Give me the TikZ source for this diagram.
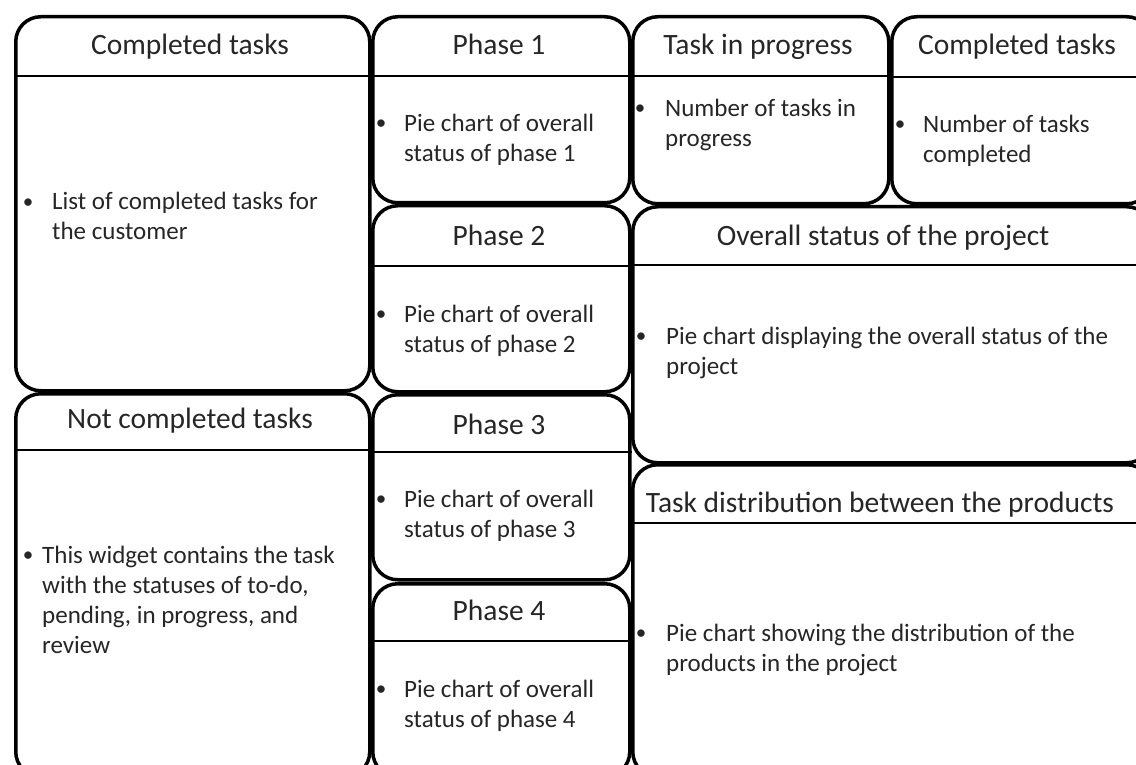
\documentclass[tikz,border=0pt]{standalone}
\usepackage{fontspec}
\setmainfont{Carlito}
\begin{document}
\begin{tikzpicture}[x=1pt,y=-1pt,
  panel/.style={draw=black,line width=3.5pt,rounded corners=25pt,anchor=north west,inner sep=0pt},
  hdr/.style={draw=black,line width=1.5pt},
  title/.style={anchor=base,inner sep=0pt,text=black!85,font=\fontsize{29.5}{35}\selectfont},
  dot/.style={anchor=base,inner sep=0pt,text=black!85,font=\fontsize{21}{25}\selectfont},
  body/.style={anchor=base west,inner sep=0pt,text=black!85}]
\newcommand{\bodylines}[2]{\parbox[t]{#1pt}{\raggedright\fontsize{25}{30}\selectfont #2}}
\useasboundingbox (0,0) rectangle (1136,765);
\fill[white] (0,0) rectangle (1136,765);
\clip (0,0) rectangle (1136,765);

% panels of the dashboard
\node[panel,minimum width=354pt,minimum height=374pt] (ctl) at (14,15) {};
\node[panel,minimum width=257pt,minimum height=186pt] (ph1) at (371,15) {};
\node[panel,minimum width=256pt,minimum height=187pt] (tip) at (631,15) {};
\node[panel,minimum width=260pt,minimum height=187pt] (ctr) at (890,15) {};
\node[panel,minimum width=257pt,minimum height=186pt] (ph2) at (371,204) {};
\node[panel,minimum width=519pt,minimum height=256pt] (ovr) at (631,205) {};
\node[panel,minimum width=354pt,minimum height=383pt] (nct) at (14,392) {};
\node[panel,minimum width=257pt,minimum height=185pt] (ph3) at (371,393) {};
\node[panel,minimum width=257pt,minimum height=193pt] (ph4) at (371,582) {};
\node[panel,minimum width=519pt,minimum height=312pt] (tdp) at (631,463) {};

% header rules
\foreach \p/\d in {ctl/61,ph1/61,tip/61,ctr/62,ph2/62,ovr/60,nct/58,ph3/59,ph4/59,tdp/60}
  \draw[hdr] ([yshift=-\d pt]\p.north west) -- ([yshift=-\d pt]\p.north east);

% titles
\node[title] (ctlT) at (190,55) {Completed tasks};
\node[title] (ph1T) at (499,55) {Phase 1};
\node[title] (tipT) at (758,55) {Task in progress};
\node[title] (ctrT) at (1017,55) {Completed tasks};
\node[title] (ph2T) at (499,245) {Phase 2};
\node[title] (ovrT) at (883,245) {Overall status of the project};
\node[title] (nctT) at (190,428) {Not completed tasks};
\node[title] (ph3T) at (499,434) {Phase 3};
\node[title] (ph4T) at (499,620) {Phase 4};
\node[title] (tdpT) at (880,512) {Task distribution between the products};

% bullet items
\node[dot] (ctlB) at (28,208) {•};
\node[body] (ctlX) at (52,210) {\bodylines{310}{List of completed tasks for\\the customer}};
\node[dot] (ph1B) at (381,130) {•};
\node[body] (ph1X) at (404,132) {\bodylines{220}{Pie chart of overall\\status of phase 1}};
\node[dot] (tipB) at (640,115) {•};
\node[body] (tipX) at (665,117) {\bodylines{220}{Number of tasks in\\progress}};
\node[dot] (ctrB) at (900,131) {•};
\node[body] (ctrX) at (923,133) {\bodylines{220}{Number of tasks\\completed}};
\node[dot] (ph2B) at (381,320) {•};
\node[body] (ph2X) at (404,322) {\bodylines{220}{Pie chart of overall\\status of phase 2}};
\node[dot] (ovrB) at (641,342) {•};
\node[body] (ovrX) at (666,344) {\bodylines{470}{Pie chart displaying the overall status of the\\project}};
\node[dot] (nctB) at (28,561) {•};
\node[body] (nctX) at (42,563) {\bodylines{320}{This widget contains the task\\with the statuses of to-do,\\pending, in progress, and\\review}};
\node[dot] (ph3B) at (381,505) {•};
\node[body] (ph3X) at (404,507) {\bodylines{220}{Pie chart of overall\\status of phase 3}};
\node[dot] (ph4B) at (381,695) {•};
\node[body] (ph4X) at (404,697) {\bodylines{220}{Pie chart of overall\\status of phase 4}};
\node[dot] (tdpB) at (641,639) {•};
\node[body] (tdpX) at (666,641) {\bodylines{470}{Pie chart showing the distribution of the\\products in the project}};
\end{tikzpicture}
\end{document}
